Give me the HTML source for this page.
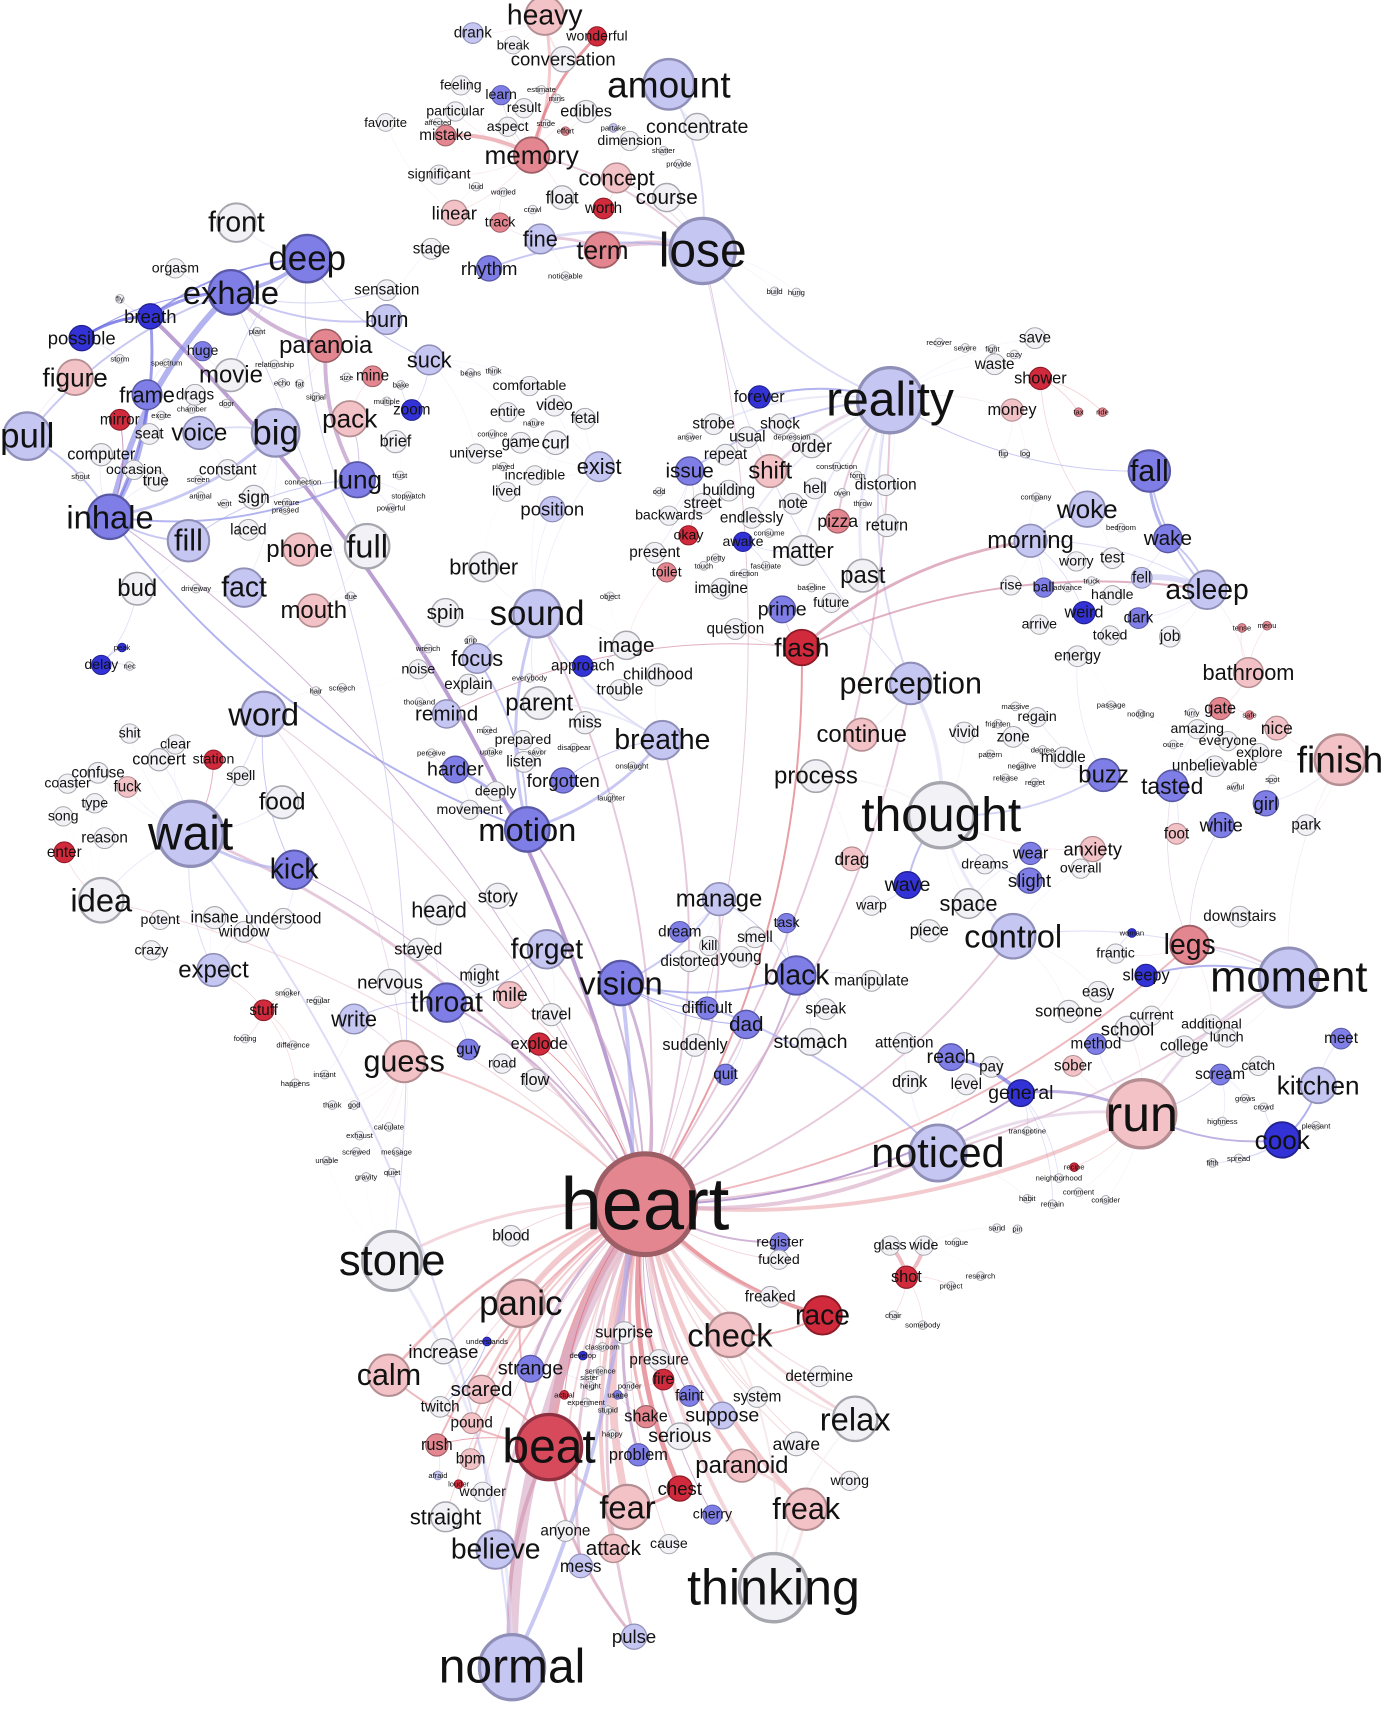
<!DOCTYPE html>
<html><head><meta charset="utf-8"><title>Word network</title>
<style>
html,body{margin:0;padding:0;background:#fff;}
svg{display:block;}
text{font-family:"Liberation Sans",Arial,sans-serif;fill:#111;text-anchor:middle;dominant-baseline:central;}
</style></head>
<body>
<svg id="net" width="1389" height="1709" viewBox="0 0 1275 1568" xmlns="http://www.w3.org/2000/svg">
<g id="edges"></g>
<g id="nodes"></g>
</svg>
<script>
// nodes: [word, x, y, fontSize, tone]
const nodes = [
["heavy",500,14,26,"p"],["drank",434,30,14,"l"],["break",471,41,12,"w"],["wonderful",548,33,13,"R"],["conversation",517,54,17,"w"],
["amount",614,77,34,"l"],["feeling",423,78,13,"w"],["learn",460,87,13,"b"],["estimate",497,82,7,"w"],["mins",511,90,7,"w"],
["result",481,99,13,"w"],["edibles",538,102,15,"w"],["particular",418,102,13,"w"],["favorite",354,112,12,"w"],["affected",402,112,7,"w"],
["aspect",466,116,13,"w"],["stride",501,113,7,"w"],["effort",519,120,7,"r"],["partake",563,117,7,"l"],["concentrate",640,116,18,"w"],
["mistake",409,124,14,"r"],["dimension",578,129,13,"w"],["memory",488,142,24,"r"],["shatter",609,138,7,"w"],["significant",403,160,13,"w"],
["provide",623,150,7,"w"],["concept",566,163,20,"p"],["loud",437,171,7,"w"],["worried",462,176,7,"w"],["float",516,181,16,"w"],
["course",612,181,19,"w"],["linear",417,195,17,"p"],["crawl",489,192,7,"w"],["worth",554,191,14,"R"],["track",459,204,13,"r"],
["fine",496,219,20,"l"],["term",553,229,24,"r"],["lose",645,230,44,"l"],["stage",396,228,14,"w"],["rhythm",449,246,17,"b"],
["noticeable",519,253,7,"w"],["build",711,267,7,"w"],["hung",731,268,7,"w"],
["front",217,204,26,"w"],["deep",282,237,32,"b"],["orgasm",161,246,13,"w"],["exhale",212,268,30,"b"],["sensation",355,266,14,"w"],
["fly",110,274,7,"w"],["breath",138,290,17,"B"],["burn",355,293,20,"l"],["possible",75,310,17,"B"],["huge",186,322,13,"b"],
["plant",236,304,7,"w"],["storm",110,329,7,"w"],["paranoia",299,317,22,"r"],["suck",394,330,20,"l"],["spectrum",153,333,7,"w"],
["relationship",252,334,7,"w"],["size",318,346,7,"w"],["figure",69,346,24,"p"],["movie",212,344,22,"w"],["mine",342,345,14,"r"],
["frame",135,362,20,"b"],["drags",179,362,14,"w"],["echo",259,351,7,"w"],["fat",275,352,7,"w"],["bake",368,353,7,"w"],
["mirror",110,385,14,"R"],["chamber",176,375,7,"w"],["door",208,370,7,"w"],["signal",290,364,7,"w"],["multiple",355,368,7,"w"],
["zoom",378,376,14,"B"],["pack",321,384,24,"p"],["seat",137,398,14,"w"],["voice",183,397,22,"l"],["big",253,397,32,"l"],
["excite",148,381,7,"w"],["computer",93,417,15,"w"],["brief",363,405,15,"w"],["pull",25,400,32,"l"],["occasion",123,431,13,"w"],
["constant",209,431,14,"w"],["true",143,441,14,"w"],["screen",182,440,7,"w"],["lung",328,440,24,"b"],["trust",367,436,7,"w"],
["shout",74,437,7,"w"],["connection",278,442,7,"w"],["sign",233,456,16,"w"],["animal",184,455,7,"w"],["inhale",101,474,30,"b"],
["stopwatch",375,455,7,"w"],["vent",206,462,7,"w"],["venture",263,461,7,"w"],["pressed",262,468,7,"w"],["powerful",359,466,7,"w"],
["laced",228,486,14,"w"],["fill",173,496,28,"l"],["phone",275,504,22,"p"],["full",337,501,30,"w"],["bud",126,540,22,"w"],
["driveway",180,540,7,"w"],["fact",224,539,26,"l"],["mouth",288,560,22,"p"],["due",322,547,7,"w"],["delay",93,610,13,"B"],
["peak",112,594,7,"B"],["nec",119,611,7,"w"],
["beans",432,342,7,"w"],["think",453,340,7,"w"],["comfortable",486,354,13,"w"],["entire",466,378,13,"w"],["video",509,372,14,"w"],
["fetal",537,384,14,"w"],["nature",490,388,7,"w"],["universe",437,416,13,"w"],["convince",452,398,7,"w"],["game",478,406,14,"w"],
["curl",510,406,16,"w"],["played",462,428,7,"w"],["incredible",491,436,13,"w"],["exist",550,428,20,"l"],["lived",465,451,13,"w"],
["position",507,467,17,"l"],["brother",444,520,20,"w"],["spin",409,562,19,"w"],["sound",493,563,32,"l"],["object",560,547,7,"w"],
["image",575,592,19,"w"],["grip",432,587,7,"w"],["wrench",393,595,7,"w"],["focus",438,604,20,"l"],["noise",384,614,13,"w"],
["approach",535,611,14,"B"],["explain",430,628,14,"w"],["everybody",486,622,7,"w"],["childhood",604,619,15,"w"],["trouble",569,633,14,"w"],
["thousand",385,644,7,"w"],["remind",410,655,19,"l"],["parent",495,645,22,"w"],["hair",290,634,7,"w"],["screech",314,631,7,"w"],
["miss",537,663,15,"w"],["mixed",447,670,7,"w"],["prepared",480,679,13,"w"],["savor",493,690,7,"w"],["disappear",527,686,7,"w"],
["breathe",608,679,26,"l"],["uptake",451,690,7,"w"],["perceive",396,691,7,"w"],["listen",481,699,14,"w"],["harder",418,706,18,"b"],
["forgotten",517,716,17,"b"],["deeply",455,726,13,"w"],["onslaught",580,703,7,"w"],["laughter",561,732,7,"w"],["movement",431,743,13,"w"],
["motion",484,761,30,"b"],
["forever",697,364,15,"B"],["recover",862,314,7,"w"],["severe",886,319,7,"w"],["fight",911,320,7,"w"],["save",950,310,14,"w"],
["waste",913,334,14,"w"],["cozy",931,325,7,"w"],["shower",955,347,15,"R"],["reality",817,367,44,"l"],["money",929,376,15,"p"],
["strobe",655,389,14,"w"],["shock",716,389,14,"w"],["usual",686,401,14,"w"],["answer",633,401,7,"w"],["depression",727,401,7,"w"],
["order",745,409,16,"w"],["repeat",666,417,14,"w"],["issue",633,432,19,"b"],["shift",707,432,22,"p"],["construction",768,428,7,"w"],
["form",787,436,7,"w"],["distortion",813,445,14,"w"],["building",669,450,14,"w"],["hell",748,448,14,"w"],["street",645,462,14,"w"],
["note",728,462,14,"w"],["oven",773,452,7,"w"],["throw",792,462,7,"w"],["odd",605,451,7,"w"],["backwards",614,473,13,"w"],
["endlessly",690,475,14,"w"],["pizza",769,478,16,"r"],["return",814,482,15,"w"],["okay",632,491,13,"R"],["awake",682,497,13,"B"],
["consume",706,489,7,"w"],["present",601,507,14,"w"],["matter",737,505,20,"w"],["past",792,528,22,"w"],["toilet",612,525,13,"r"],
["pretty",657,512,7,"w"],["touch",646,519,7,"w"],["direction",683,526,7,"w"],["fascinate",703,519,7,"w"],["imagine",662,540,14,"w"],
["baseline",745,539,7,"w"],["future",763,553,13,"w"],["prime",718,559,18,"b"],["question",675,577,14,"w"],["flash",736,594,24,"R"],
["company",951,456,7,"w"],["flip",921,416,7,"w"],["log",941,416,7,"w"],["tax",990,378,7,"r"],["ride",1012,378,7,"r"],
["fall",1055,432,28,"b"],["woke",998,467,24,"l"],["bedroom",1029,484,7,"w"],["morning",946,496,22,"l"],["wake",1072,494,19,"b"],
["worry",988,515,13,"w"],["test",1021,512,14,"w"],["fell",1048,530,14,"l"],["asleep",1108,541,26,"l"],["rise",928,537,13,"w"],
["ball",958,539,13,"b"],["advance",980,539,7,"w"],["truck",1002,533,7,"w"],["handle",1021,546,13,"w"],["weird",995,562,15,"B"],
["dark",1045,567,14,"b"],["arrive",954,573,13,"w"],["toked",1019,583,13,"w"],["job",1074,584,14,"w"],["energy",989,602,14,"w"],
["tense",1140,576,7,"r"],["menu",1163,574,7,"r"],["bathroom",1146,617,20,"p"],["perception",836,627,28,"l"],["continue",791,674,22,"p"],
["regain",952,658,13,"w"],["massive",932,648,7,"w"],["frighten",916,664,7,"w"],["vivid",885,672,14,"w"],["zone",930,676,14,"w"],
["passage",1020,647,7,"w"],["nodding",1047,655,7,"w"],["gate",1120,650,15,"r"],["furry",1094,654,7,"w"],["safe",1147,656,7,"r"],
["nice",1172,668,16,"p"],["amazing",1099,669,13,"w"],["everyone",1127,680,13,"w"],["ounce",1077,683,7,"w"],["pattern",909,692,7,"w"],
["degree",957,688,7,"w"],["middle",976,695,14,"w"],["explore",1156,691,13,"w"],["finish",1230,697,34,"p"],["process",749,712,22,"w"],
["negative",938,703,7,"w"],["unbelievable",1115,703,14,"w"],["buzz",1013,711,22,"b"],["release",923,714,7,"w"],["regret",950,718,7,"w"],
["tasted",1076,721,21,"b"],["spot",1168,715,7,"w"],["awful",1134,722,7,"w"],["thought",864,748,44,"w"],["girl",1162,737,17,"b"],
["white",1121,757,17,"b"],["park",1199,757,14,"w"],["anxiety",1003,779,17,"p"],["wear",946,783,15,"b"],["foot",1080,765,14,"p"],
["overall",992,797,13,"w"],["slight",945,808,17,"b"],["dreams",904,793,13,"w"],["wave",833,812,18,"B"],["space",889,829,20,"w"],
["drag",782,788,16,"p"],["warp",800,831,13,"w"],["piece",853,854,15,"w"],["control",930,859,30,"l"],["downstairs",1138,841,14,"w"],
["legs",1092,867,26,"r"],["frantic",1024,875,13,"w"],["woman",1039,856,7,"B"],["moment",1183,897,40,"l"],["sleepy",1052,895,15,"B"],
["easy",1008,910,14,"w"],["someone",981,928,15,"w"],["current",1057,932,13,"w"],["school",1035,944,17,"w"],["additional",1112,940,13,"w"],
["method",1006,958,14,"b"],["lunch",1126,952,13,"w"],["meet",1231,953,14,"b"],["college",1087,960,14,"w"],["reach",873,970,18,"b"],
["pay",910,979,14,"w"],["sober",985,978,14,"p"],["catch",1155,978,13,"w"],["scream",1120,986,14,"b"],["level",887,995,14,"w"],
["drink",835,993,15,"w"],["general",937,1003,18,"B"],["run",1048,1022,46,"p"],["kitchen",1210,996,24,"l"],["cook",1177,1046,24,"B"],
["noticed",861,1058,38,"l"],
["manage",660,825,22,"l"],["dream",624,855,14,"b"],["kill",651,868,13,"w"],["task",722,847,13,"b"],["smell",693,860,14,"w"],
["young",680,878,14,"w"],["distorted",633,882,14,"w"],["black",731,895,26,"b"],["manipulate",800,900,14,"w"],["vision",570,902,30,"b"],
["forget",502,871,26,"l"],["throat",410,920,26,"b"],["heard",403,835,20,"w"],["story",457,822,17,"w"],["stayed",384,871,15,"w"],
["nervous",358,901,17,"w"],["might",440,895,15,"w"],["mile",468,913,18,"p"],["write",325,935,20,"l"],["travel",506,931,15,"w"],
["difficult",649,925,15,"b"],["speak",758,926,14,"w"],["dad",685,940,19,"b"],["stomach",744,956,18,"w"],["attention",830,957,14,"w"],
["suddenly",638,959,15,"w"],["guy",430,963,14,"b"],["explode",495,958,15,"R"],["guess",371,974,28,"p"],["road",461,976,13,"w"],
["flow",491,991,15,"w"],["quit",666,986,14,"b"],["stuff",242,927,14,"R"],["idea",93,826,30,"w"],["expect",196,890,22,"l"],
["crazy",139,872,13,"w"],["potent",147,844,13,"w"],["insane",197,842,15,"w"],["understood",260,843,14,"w"],["window",224,855,14,"w"],
["kick",270,798,26,"b"],["word",242,655,30,"l"],["food",259,736,22,"w"],["wait",175,765,44,"l"],["spell",221,712,13,"w"],
["station",196,697,13,"R"],["clear",161,683,13,"w"],["shit",119,673,13,"w"],["concert",146,697,15,"w"],["confuse",90,709,14,"w"],
["coaster",62,719,13,"w"],["fuck",117,722,14,"p"],["type",87,737,13,"w"],["song",58,749,13,"w"],["reason",96,769,14,"w"],
["enter",59,782,14,"R"],
["heart",592,1105,68,"r"],["blood",469,1134,14,"w"],["register",716,1140,13,"b"],["fucked",715,1156,13,"w"],["freaked",707,1190,14,"w"],
["race",755,1207,26,"R"],["stone",360,1157,40,"w"],["panic",478,1196,32,"p"],["check",670,1225,30,"p"],["surprise",573,1223,15,"w"],
["increase",407,1240,17,"w"],["calm",357,1262,28,"p"],["strange",487,1256,18,"b"],["pressure",605,1248,14,"w"],["determine",752,1263,14,"w"],
["scared",442,1275,19,"p"],["fire",609,1266,14,"R"],["twitch",404,1291,14,"w"],["faint",633,1281,14,"b"],["system",695,1282,14,"w"],
["pound",433,1306,14,"p"],["shake",593,1300,15,"r"],["suppose",663,1299,18,"l"],["relax",785,1302,30,"w"],["serious",624,1318,18,"w"],
["beat",504,1328,44,"D"],["aware",731,1325,16,"w"],["rush",401,1326,15,"r"],["problem",586,1335,15,"b"],["bpm",432,1339,14,"p"],
["paranoid",681,1345,22,"p"],["chest",624,1366,17,"R"],["wrong",780,1359,13,"w"],["wonder",443,1369,13,"w"],["straight",409,1392,20,"w"],
["fear",576,1383,30,"p"],["cherry",654,1390,13,"b"],["freak",740,1385,28,"p"],["anyone",519,1405,14,"w"],["believe",455,1422,26,"l"],
["attack",563,1421,19,"p"],["cause",614,1417,13,"w"],["mess",533,1437,16,"l"],["thinking",710,1457,46,"w"],["pulse",582,1502,17,"l"],
["normal",470,1530,44,"l"],
["understands",447,1231,7,"B"],["classroom",553,1236,7,"w"],["develop",535,1244,7,"B"],["sentence",551,1258,7,"w"],["sister",541,1264,7,"w"],
["height",542,1272,7,"w"],["ponder",578,1272,7,"w"],["actual",518,1280,7,"R"],["usage",567,1280,7,"b"],["experiment",538,1287,7,"w"],
["stupid",558,1294,7,"w"],["happy",562,1316,7,"w"],["afraid",402,1354,7,"l"],["louder",421,1362,7,"R"],
["glass",817,1143,13,"w"],["wide",848,1143,13,"w"],["shot",832,1172,15,"R"],["tongue",878,1140,7,"w"],["research",900,1171,7,"w"],
["project",873,1180,7,"w"],["chair",820,1207,7,"w"],["somebody",847,1216,7,"w"],["neighborhood",972,1081,7,"w"],["recipe",986,1071,7,"R"],
["comment",990,1094,7,"w"],["consider",1015,1101,7,"w"],["habit",943,1100,7,"w"],["remain",966,1105,7,"w"],["sand",915,1127,7,"w"],
["pin",934,1128,7,"w"],["transpotine",943,1038,7,"w"],["highness",1122,1029,7,"w"],["pleasant",1208,1033,7,"w"],["fifth",1113,1067,7,"w"],
["spread",1137,1063,7,"w"],["grows",1143,1008,7,"w"],["crowd",1160,1016,7,"w"],
["smoker",264,911,7,"w"],["regular",292,918,7,"w"],["difference",269,959,7,"w"],["footing",225,953,7,"w"],["happens",271,994,7,"w"],
["thank",305,1014,7,"w"],["instant",298,986,7,"w"],["god",325,1014,7,"w"],["calculate",357,1034,7,"w"],["exhaust",330,1042,7,"w"],
["screwed",327,1057,7,"w"],["message",364,1057,7,"w"],["unable",300,1065,7,"w"],["quiet",360,1076,7,"w"],["gravity",336,1080,7,"w"]
];
// edges: [source, target, weight]
const edges = [
["heart","beat",10],["heart","normal",12],["heart","fear",8],["heart","panic",6],["heart","check",6],["heart","thinking",4],
["heart","race",4],["heart","freak",5],["heart","chest",5],["heart","paranoid",4],["heart","relax",3],["heart","calm",3],
["heart","stone",3],["heart","pulse",3],["heart","attack",4],["heart","serious",3],["heart","problem",3],["heart","shake",3],
["heart","pressure",3],["heart","surprise",3],["heart","strange",3],["heart","scared",3],["heart","mess",3],["heart","believe",3],
["heart","wait",3],["heart","breath",4],["heart","flash",2],["heart","run",4],["heart","moment",2],["heart","noticed",4],
["heart","vision",3],["heart","manage",2],["heart","black",2],["heart","legs",2],["heart","reality",2],["heart","perception",2],
["heart","sound",2],["heart","motion",2],["heart","breathe",2],["heart","guess",2],["heart","forget",2],["heart","throat",2],
["heart","rush",2],["heart","bpm",2],["heart","pound",2],["heart","freaked",2],["heart","register",2],["heart","fucked",1],
["heart","increase",2],["heart","twitch",1],["heart","faint",1],["heart","system",1],["heart","suppose",2],["heart","cherry",1],
["heart","aware",1],["heart","control",2],["heart","general",2],["heart","lose",1],["heart","word",1],["heart","idea",1],
["heart","kick",1],["heart","inhale",1],["heart","flow",1],["heart","blood",1],["heart","anyone",2],["heart","cause",1],
["heart","fire",2],["heart","wonder",1],["heart","straight",1],["heart","determine",1],["heart","wrong",1],["heart","actual",1],
["heart","sentence",1],["heart","experiment",1],["heart","classroom",1],["heart","calm",2],["heart","explode",1],["heart","mile",1],
["beat","pulse",3],["beat","normal",4],["beat","fear",3],["fear","chest",3],["freak","paranoid",3],["thinking","freak",3],
["thinking","check",2],["normal","stone",3],["normal","wait",2],["normal","vision",4],["check","race",2],["check","relax",2],
["relax","thinking",2],["calm","beat",2],["panic","beat",2],["beat","scared",2],["beat","rush",1],["twitch","understands",1],
["exhale","inhale",6],["exhale","deep",4],["exhale","breath",3],["inhale","frame",4],["inhale","big",3],["exhale","paranoia",4],
["paranoia","lung",4],["exhale","burn",2],["inhale","breath",3],["inhale","pull",2],["exhale","pull",2],["inhale","fill",2],
["big","voice",2],["deep","breath",2],["exhale","possible",1],["breath","possible",3],["inhale","motion",2],["lung","pack",1],
["lung","fill",1],["exhale","sensation",1],["deep","suck",1],["inhale","lung",2],["inhale","mirror",1],["deep","movie",1],
["lose","term",5],["lose","fine",3],["lose","memory",2],["lose","amount",2],["lose","concept",1],["lose","reality",2],
["lose","course",1],["memory","heavy",3],["memory","mistake",4],["heavy","conversation",2],["amount","concentrate",2],
["term","fine",3],["lose","rhythm",2],["wonderful","memory",3],
["reality","issue",2],["reality","shift",3],["reality","past",3],["reality","pizza",2],["reality","forever",2],["reality","strobe",2],
["reality","matter",2],["reality","fall",1],["reality","perception",2],["reality","endlessly",2],["reality","return",1],
["fall","wake",3],["fall","asleep",2],["asleep","fell",6],["asleep","wake",2],["woke","morning",2],["asleep","morning",1],
["morning","flash",3],["asleep","flash",2],
["thought","perception",4],["thought","process",2],["thought","control",3],["thought","space",1],["thought","anxiety",1],
["thought","buzz",2],["thought","slight",1],["thought","wave",2],["thought","vivid",1],
["moment","legs",2],["moment","run",3],["moment","control",1],["run","general",3],["general","reach",4],["run","cook",2],
["cook","kitchen",2],["run","noticed",3],["moment","sleepy",2],["run","scream",1],["run","school",1],
["sound","breathe",2],["sound","focus",2],["motion","breathe",3],["motion","focus",2],["motion","harder",3],["sound","parent",1],
["breathe","parent",2],["breathe","forgotten",1],["sound","motion",3],
["wait","word",1],["wait","kick",3],["wait","idea",1],["wait","food",1],["wait","expect",1],["word","kick",1],["wait","concert",1],
["wait","station",1],["vision","black",2],["vision","manage",2],["throat","forget",1],["vision","dad",1],["vision","difficult",1],
["black","manage",1],["noticed","vision",2],["shot","glass",4],["shot","wide",4],["guess","word",1],["guess","write",1],
["throat","write",1],["deep","full",1],["lose","perception",1],["flash","remind",1],["stone","exhale",1]
];

const tones = {
  B:{f:[50,50,214],s:"#20208f"}, b:{f:[126,126,230],s:"#5858a6"}, l:{f:[198,198,242],s:"#8f8fb8"},
  w:{f:[242,242,246],s:"#a6a6ae"}, p:{f:[242,194,198],s:"#b48e92"}, r:{f:[227,134,144],s:"#9e5e66"},
  R:{f:[208,42,60],s:"#8c1a26"}, D:{f:[214,74,92],s:"#8e3040"}
};
const NS="http://www.w3.org/2000/svg";
const idx={};
nodes.forEach(n=>{idx[n[0]]=n;});
function rad(f){return f<=8?4:Math.max(5,f*0.68);}
const eg=document.getElementById("edges");
function drawEdge(a,b,w,op,name){
  const ca=tones[a[4]].f, cb=tones[b[4]].f;
  const c=ca.map((v,i)=>Math.round((v+cb[i])/2*0.9+25));
  const dx=b[1]-a[1], dy=b[2]-a[2];
  const mx=(a[1]+b[1])/2 - dy*0.15, my=(a[2]+b[2])/2 + dx*0.15;
  const p=document.createElementNS(NS,"path");
  p.setAttribute("d",`M${a[1]},${a[2]} Q${mx},${my} ${b[1]},${b[2]}`);
  p.setAttribute("fill","none");
  p.setAttribute("stroke",`rgb(${c[0]},${c[1]},${c[2]})`);
  p.setAttribute("stroke-width",w);
  p.setAttribute("stroke-opacity",op);
  
  
  eg.appendChild(p);
}
const linked={};
edges.forEach(e=>{
  const a=idx[e[0]], b=idx[e[1]]; if(!a||!b) return;
  linked[e[0]]=1; linked[e[1]]=1;
  drawEdge(a,b,Math.max(0.8,e[2]*0.9),0.65,'edge-'+e[0]+'-'+e[1]);
});
// faint background links: each unlinked node to its nearest larger node
nodes.forEach(n=>{
  if(linked[n[0]]) return;
  let best=null,bd=1e9;
  nodes.forEach(m=>{
    if(m[3]<=n[3]+4||m===n) return;
    const d=Math.hypot(m[1]-n[1],m[2]-n[2]);
    if(d<bd){bd=d;best=m;}
  });
  if(best) drawEdge(n,best,0.7,0.35,'faint-edge-'+n[0]);
});
const ng=document.getElementById("nodes");
const sorted=nodes.slice().sort((a,b)=>a[3]-b[3]);
sorted.forEach(n=>{
  const t=tones[n[4]], r=rad(n[3]);
  const g=document.createElementNS(NS,"g");
  
  
  const c=document.createElementNS(NS,"circle");
  c.setAttribute("cx",n[1]); c.setAttribute("cy",n[2]); c.setAttribute("r",r);
  c.setAttribute("fill",`rgb(${t.f.join(",")})`);
  c.setAttribute("stroke",t.s);
  c.setAttribute("stroke-width",Math.max(0.8,r/10));
  
  
  g.appendChild(c);
  ng.appendChild(g);
});
sorted.forEach(n=>{
  const tx=document.createElementNS(NS,"text");
  tx.setAttribute("x",n[1]); tx.setAttribute("y",n[2]);
  tx.setAttribute("font-size",n[3]);
  tx.textContent=n[0];
  
  
  ng.appendChild(tx);
});
</script>
</body></html>
